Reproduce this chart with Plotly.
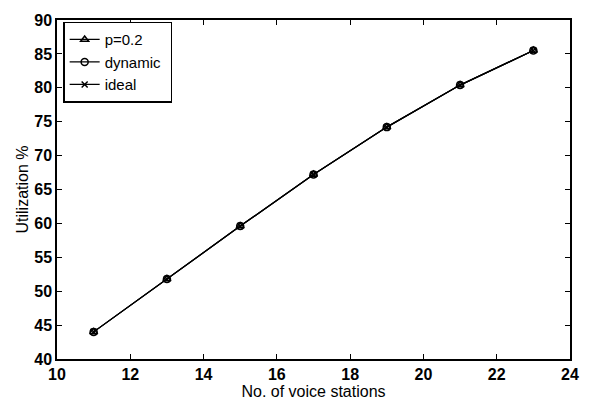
import plotly.graph_objects as go

stations = [11, 13, 15, 17, 19, 21, 23]
util_p02 = [44.0, 51.8, 59.6, 67.2, 74.2, 80.4, 85.5]
util_dynamic = [44.0, 51.8, 59.6, 67.2, 74.2, 80.4, 85.5]
util_ideal = [44.0, 51.8, 59.6, 67.2, 74.2, 80.4, 85.5]

fig = go.Figure()
fig.add_trace(go.Scatter(x=stations, y=util_p02, name="p=0.2 ", mode="lines+markers",
                         line=dict(color="black", width=1.2),
                         marker=dict(symbol="triangle-up-open", size=7, color="black",
                                     line=dict(width=1.5))))
fig.add_trace(go.Scatter(x=stations, y=util_dynamic, name="dynamic ", mode="lines+markers",
                         line=dict(color="black", width=1.2),
                         marker=dict(symbol="circle-open", size=7, color="black",
                                     line=dict(width=1.5))))
fig.add_trace(go.Scatter(x=stations, y=util_ideal, name="ideal ", mode="lines+markers",
                         line=dict(color="black", width=1.2),
                         marker=dict(symbol="x-thin-open", size=6, color="black", line=dict(width=1.5))))

axis_common = dict(showgrid=False, zeroline=False, showline=True, linecolor="black", linewidth=1.5,
                   mirror="ticks", ticks="inside", ticklen=5, tickcolor="black",
                   tickfont=dict(family="Liberation Sans, Arial", size=16, color="black", weight="bold"))

fig.update_layout(
    width=591, height=406,
    margin=dict(l=57, r=18, t=14, b=44),
    paper_bgcolor="white", plot_bgcolor="white",
    font=dict(family="Liberation Sans, Arial", color="black"),
    xaxis=dict(range=[10, 24], dtick=2,
               title=dict(text="No. of voice stations", font=dict(size=16), standoff=0), **axis_common),
    yaxis=dict(range=[40, 90], dtick=5,
               title=dict(text="Utilization %", font=dict(size=16), standoff=2), **axis_common),
    legend=dict(x=0.012, y=0.995, xanchor="left", yanchor="top", bgcolor="white",
                bordercolor="black", borderwidth=1.5, font=dict(size=15),
                tracegroupgap=0, itemwidth=30),
    showlegend=True,
)

fig.write_html("out.html")
